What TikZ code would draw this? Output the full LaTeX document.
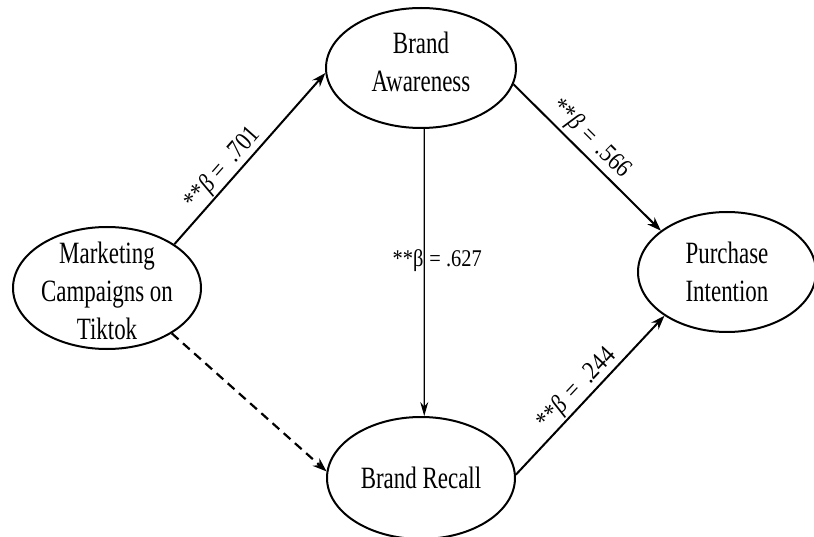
\documentclass[tikz,border=0pt]{standalone}
\usepackage{fontspec}
\setmainfont{Liberation Serif}[FakeStretch=0.74]
\newfontfamily\labfont{Liberation Serif}[FakeStretch=0.85]
\usetikzlibrary{shapes.geometric,arrows.meta}
\begin{document}
\begin{tikzpicture}[x=1pt,y=-1pt,
  var/.style={ellipse, draw, line width=2pt, inner sep=0pt},
  txt/.style={align=center, inner sep=0pt, font=\fontsize{31}{38}\selectfont},
  conn/.style={line width=2pt, -{Stealth[length=14pt,width=10pt]}},
  lab/.style={font=\labfont\fontsize{24}{28}\selectfont, inner sep=0pt},
  slab/.style={font=\labfont\fontsize{26}{28}\selectfont, inner sep=0pt, sloped}]
\useasboundingbox (0,0) rectangle (814,537);
\fill[white] (0,0) rectangle (814,537);
\node[var, minimum width=188pt, minimum height=122pt,
  label={[txt, yshift=-3pt]center:{Marketing\\Campaigns on\\Tiktok}}] (ma) at (107,288) {};
\node[var, minimum width=190pt, minimum height=120pt,
  label={[txt, yshift=6pt]center:{Brand\\Awareness}}] (ba) at (421,68) {};
\node[var, minimum width=178pt, minimum height=120pt,
  label={[txt]center:{Purchase\\Intention}}] (pi) at (727,272) {};
\node[var, minimum width=188pt, minimum height=122pt,
  label={[txt]center:{Brand Recall}}] (br) at (421,478) {};
\draw[conn] (ma.33) -- node[slab, above=1pt, pos=0.39] {**\textit{β}\hspace{7pt}=\hspace{9pt}.701} (ba.183);
\draw[conn] (ba.-10) -- node[slab, above=3pt, pos=0.45] {**\textit{β}\hspace{7pt}=\hspace{9pt}.566} (pi.148);
\draw[line width=1.3pt, -{Stealth[length=14pt,width=8pt]}] (ba.-87) -- node[lab, pos=0.457, xshift=13pt] {**β\hspace{6pt}= .627} (br.87);
\draw[conn, line width=2.2pt, dash pattern=on 9pt off 6pt] (ma.-35) -- (br.176);
\draw[conn] (br.2) -- node[slab, above=1pt, pos=0.48] {**\textit{β}\hspace{8pt}=\hspace{10pt}.244} (pi.215);
\end{tikzpicture}
\end{document}
